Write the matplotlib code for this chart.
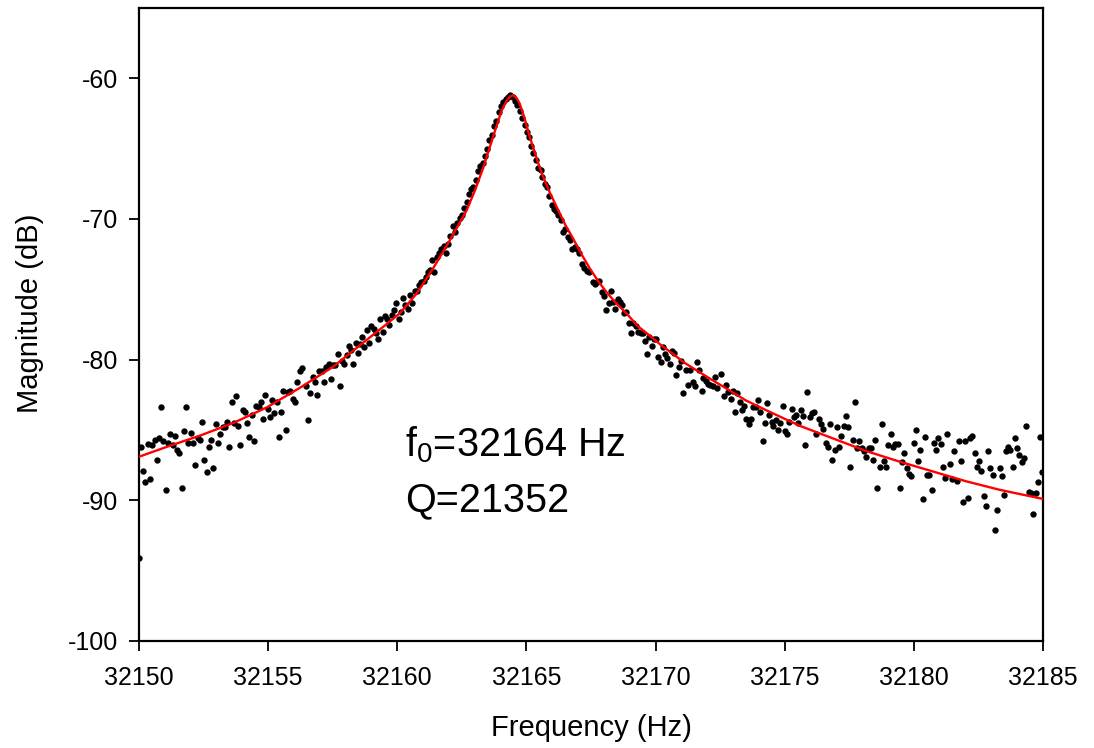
import matplotlib
matplotlib.use("Agg")
import matplotlib.pyplot as plt

# ---- data ----
freq = [
    32150.00, 32150.08, 32150.15, 32150.24, 32150.34, 32150.43, 32150.51, 32150.61, 32150.68, 32150.77,
    32150.86, 32150.94, 32151.03, 32151.12, 32151.21, 32151.30, 32151.39, 32151.47, 32151.56, 32151.65,
    32151.74, 32151.83, 32151.91, 32152.00, 32152.09, 32152.18, 32152.27, 32152.36, 32152.45, 32152.53,
    32152.62, 32152.70, 32152.79, 32152.88, 32152.97, 32153.06, 32153.15, 32153.24, 32153.32, 32153.41,
    32153.49, 32153.59, 32153.66, 32153.75, 32153.83, 32153.92, 32154.01, 32154.10, 32154.19, 32154.27,
    32154.36, 32154.45, 32154.54, 32154.63, 32154.71, 32154.80, 32154.89, 32154.98, 32155.06, 32155.15,
    32155.24, 32155.33, 32155.42, 32155.51, 32155.58, 32155.68, 32155.77, 32155.86, 32155.95, 32156.03,
    32156.11, 32156.23, 32156.33,
    32156.45, 32156.55, 32156.63, 32156.72, 32156.81, 32156.89, 32156.98, 32157.07, 32157.16, 32157.25,
    32157.34, 32157.43, 32157.51, 32157.60, 32157.69, 32157.77, 32157.86, 32157.95, 32158.04, 32158.13,
    32158.20, 32158.29, 32158.39, 32158.47, 32158.56, 32158.64, 32158.73, 32158.82, 32158.91, 32158.99,
    32159.08, 32159.17, 32159.26, 32159.34, 32159.43, 32159.52, 32159.61, 32159.69, 32159.78, 32159.87,
    32159.96, 32160.05, 32160.14, 32160.23, 32160.31, 32160.40, 32160.49, 32160.58, 32160.67, 32160.76,
    32160.84, 32160.92, 32161.02, 32161.10, 32161.18, 32161.27,
    32161.35, 32161.44, 32161.53, 32161.62, 32161.71, 32161.80, 32161.89, 32161.98, 32162.06, 32162.15,
    32162.24, 32162.33, 32162.42, 32162.50, 32162.59, 32162.68, 32162.77, 32162.86, 32162.95, 32163.04,
    32163.13, 32163.22, 32163.31, 32163.40, 32163.49, 32163.57, 32163.66, 32163.75, 32163.84, 32163.93,
    32164.02, 32164.11, 32164.20, 32164.29, 32164.38, 32164.47, 32164.56, 32164.65, 32164.74, 32164.83,
    32164.93, 32165.02, 32165.09, 32165.18, 32165.27, 32165.36, 32165.45, 32165.55, 32165.62, 32165.71,
    32165.80, 32165.89, 32165.98, 32166.06, 32166.15, 32166.24, 32166.33, 32166.42, 32166.51, 32166.60,
    32166.69, 32166.78, 32166.87, 32166.96, 32167.05, 32167.14, 32167.23, 32167.33, 32167.41,
    32167.56, 32167.64, 32167.72, 32167.81, 32167.91, 32167.99, 32168.08, 32168.18, 32168.27, 32168.34,
    32168.43, 32168.53, 32168.61, 32168.70, 32168.78, 32168.87, 32168.96, 32169.05, 32169.14, 32169.23,
    32169.32, 32169.42, 32169.50, 32169.58, 32169.67, 32169.76, 32169.85, 32169.94, 32170.03, 32170.11,
    32170.20, 32170.29, 32170.38, 32170.46, 32170.55, 32170.64, 32170.73, 32170.81, 32170.90, 32170.99,
    32171.08, 32171.16, 32171.25, 32171.34, 32171.43, 32171.52, 32171.61, 32171.68,
    32171.78, 32171.85, 32171.94, 32172.03, 32172.12, 32172.22, 32172.29, 32172.38, 32172.55, 32172.64,
    32172.74, 32172.82, 32172.91, 32173.00, 32173.09, 32173.17, 32173.26, 32173.34, 32173.43, 32173.52,
    32173.61, 32173.69, 32173.77, 32173.87, 32173.95, 32174.04, 32174.14, 32174.23, 32174.30, 32174.39,
    32174.49, 32174.56, 32174.65, 32174.74, 32174.83, 32174.92, 32175.01, 32175.10, 32175.18, 32175.27,
    32175.36, 32175.45, 32175.53, 32175.62, 32175.71, 32175.80, 32175.88, 32175.97, 32176.06, 32176.15,
    32176.23, 32176.32, 32176.41, 32176.50, 32176.58, 32176.67, 32176.75, 32176.85, 32176.94, 32177.01,
    32177.10, 32177.19, 32177.28, 32177.37, 32177.45, 32177.54, 32177.63, 32177.71, 32177.80, 32177.89,
    32177.98, 32178.07, 32178.16, 32178.25, 32178.34, 32178.42, 32178.51, 32178.59, 32178.68, 32178.77,
    32178.85, 32178.94, 32179.01, 32179.10, 32179.19, 32179.28, 32179.37, 32179.46, 32179.54, 32179.63,
    32179.72, 32179.81, 32179.90, 32179.99, 32180.07, 32180.16, 32180.25, 32180.34, 32180.42, 32180.51,
    32180.60, 32180.69, 32180.78, 32180.85, 32180.95, 32181.04, 32181.13, 32181.22, 32181.29, 32181.38,
    32181.47, 32181.57, 32181.66, 32181.73, 32181.82, 32181.91, 32181.99, 32182.08, 32182.17, 32182.26,
    32182.35, 32182.43, 32182.52, 32182.61, 32182.70, 32182.78, 32182.88, 32182.96, 32183.05, 32183.14,
    32183.23, 32183.32, 32183.40, 32183.49, 32183.58, 32183.66, 32183.74, 32183.83, 32183.93, 32184.00,
    32184.09, 32184.18, 32184.28, 32184.36, 32184.45, 32184.55, 32184.62, 32184.71, 32184.80, 32184.88,
    32184.97,
]
magnitude = [
    -94.1, -86.2, -87.9, -88.7, -86.0, -88.5, -86.1, -85.7, -87.1, -85.6,
    -83.4, -85.8, -89.3, -85.9, -85.3, -86.1, -85.4, -86.4, -86.6, -89.1,
    -85.1, -83.4, -85.9, -85.2, -85.9, -87.5, -85.6, -85.7, -84.4, -87.1,
    -88.0, -86.2, -85.7, -87.7, -84.6, -85.9, -85.3, -84.8, -84.8, -84.4,
    -86.2, -83.0, -84.5, -82.6, -84.7, -86.1, -83.6, -83.7, -84.5, -85.5,
    -83.9, -85.8, -83.3, -83.4, -83.0, -84.2, -82.5, -83.5, -84.1, -82.9,
    -83.8, -83.0, -85.5, -83.7, -82.2, -85.0, -82.3, -82.2, -82.8, -83.0,
    -81.6, -80.8, -80.6,
    -81.9, -84.3, -82.4, -81.2, -81.6, -82.5, -80.8, -80.8, -81.6, -80.5,
    -80.3, -81.4, -80.4, -80.4, -79.6, -81.9, -80.1, -80.3, -79.7, -79.0,
    -79.3, -80.3, -78.8, -79.5, -78.9, -78.4, -79.1, -77.9, -78.8, -77.6,
    -77.8, -78.1, -78.5, -77.1, -78.0, -76.9, -77.1, -77.5, -76.8, -76.5,
    -76.0, -77.1, -76.6, -75.6, -76.1, -76.4, -75.4, -76.0, -75.1, -75.1,
    -74.7, -74.5, -74.4, -74.1, -73.8, -73.6,
    -72.9, -73.8, -72.7, -72.4, -72.1, -71.9, -72.4, -71.8, -71.2, -70.5,
    -70.9, -70.3, -69.9, -69.7, -69.2, -68.8, -68.2, -67.9, -67.7, -67.2,
    -66.6, -66.2, -66.0, -65.5, -65.0, -64.4, -64.0, -63.4, -63.0, -62.4,
    -62.0, -61.7, -61.5, -61.3, -61.2, -61.3, -61.6, -61.9, -62.3, -62.8,
    -63.3, -63.8, -64.2, -64.8, -65.3, -65.8, -66.4, -66.5, -67.0, -67.5,
    -67.7, -68.4, -69.0, -69.3, -69.4, -69.7, -70.1, -70.9, -70.7, -71.3,
    -71.5, -72.1, -72.0, -72.1, -72.4, -73.2, -73.5, -73.7, -73.8,
    -74.5, -74.6, -74.5, -74.4, -75.2, -75.5, -76.5, -76.0, -75.1, -75.9,
    -76.4, -75.7, -75.9, -76.1, -76.7, -76.6, -77.4, -78.1, -77.4, -77.6,
    -78.0, -78.1, -78.1, -78.7, -79.6, -78.4, -79.0, -78.5, -78.5, -79.8,
    -80.2, -79.1, -79.6, -79.9, -80.3, -79.4, -79.5, -81.1, -80.5, -80.1,
    -82.4, -80.7, -81.8, -80.7, -81.6, -81.9, -80.2, -80.7,
    -82.2, -81.3, -81.5, -81.7, -81.8, -81.9, -81.2, -82.0, -81.0, -82.6,
    -81.8, -82.3, -82.8, -82.2, -83.7, -82.4, -83.0, -83.6, -83.3, -84.2,
    -84.6, -84.2, -83.4, -83.4, -82.9, -83.7, -85.8, -84.5, -83.1, -83.9,
    -84.4, -84.7, -84.3, -85.0, -84.5, -83.3, -85.1, -85.3, -84.4, -83.5,
    -84.1, -83.9, -84.5, -83.6, -84.0, -86.1, -82.3, -84.1, -83.8, -83.7,
    -85.3, -84.2, -84.6, -84.9, -85.9, -86.2, -84.6, -87.1, -86.4, -84.8,
    -86.2, -85.4, -84.7, -84.0, -84.8, -87.6, -85.7, -83.0, -86.3, -85.8,
    -86.3, -86.5, -86.9, -86.3, -86.3, -87.1, -85.7, -89.1, -87.6, -84.6,
    -87.2, -87.6, -86.1, -85.3, -86.2, -86.0, -86.0, -89.1, -87.3, -86.6,
    -87.7, -88.1, -88.3, -85.9, -85.0, -87.2, -86.4, -89.9, -85.5, -88.2,
    -88.2, -89.3, -85.9, -86.4, -85.6, -86.0, -87.6, -88.4, -85.3, -87.4,
    -88.5, -86.5, -88.6, -85.8, -87.2, -90.1, -85.8, -89.8, -85.6, -85.4,
    -86.6, -87.6, -87.2, -87.9, -89.7, -90.4, -86.5, -87.7, -88.2, -92.1,
    -90.7, -87.7, -88.3, -89.6, -86.5, -86.2, -86.4, -87.6, -85.6, -86.3,
    -86.8, -87.3, -87.0, -84.7, -89.4, -89.5, -91.0, -89.5, -88.7, -85.5,
    -88.0,
]

fit_freq = [
    32150.00, 32151.07, 32152.36, 32153.65, 32154.94, 32156.23, 32157.52, 32158.81,
    32159.50, 32160.10, 32160.75, 32161.39, 32162.04, 32162.68, 32163.00, 32163.32,
    32163.58, 32163.84, 32164.04, 32164.23, 32164.36, 32164.49, 32164.62, 32164.74,
    32164.94, 32165.10, 32165.26, 32165.45, 32165.65, 32165.90, 32166.16, 32166.50,
    32166.81, 32167.13, 32167.45, 32167.77, 32168.10, 32168.48, 32168.87, 32169.30,
    32169.78, 32170.20, 32170.68, 32171.10, 32171.58, 32172.15, 32172.74, 32173.50,
    32174.29, 32175.58, 32176.87, 32178.16, 32179.45, 32180.74, 32182.03, 32183.32,
    32185.00,
]
fit_magnitude = [
    -86.9, -86.2, -85.4, -84.5, -83.4, -82.0, -80.5, -78.6,
    -77.6, -76.7, -75.3, -73.5, -71.5, -69.4, -68.0, -66.4,
    -64.9, -63.4, -62.3, -61.6, -61.3, -61.2, -61.4, -61.8,
    -62.9, -64.0, -64.9, -66.0, -67.0, -68.1, -69.1, -70.4,
    -71.4, -72.5, -73.5, -74.4, -75.2, -76.0, -76.7, -77.6,
    -78.3, -78.95, -79.6, -80.2, -80.75, -81.4, -82.05, -82.9,
    -83.6, -84.7, -85.6, -86.5, -87.25, -87.95, -88.65, -89.25,
    -89.9,
]

x_ticks = [32150, 32155, 32160, 32165, 32170, 32175, 32180, 32185]
y_ticks = [-100, -90, -80, -70, -60]
annot_lines = [r"f$_\mathregular{0}$=32164 Hz", "Q=21352"]

# ---- styling ----
plt.rcParams['font.family'] = ['Liberation Sans', 'DejaVu Sans']
plt.rcParams['mathtext.fontset'] = 'custom'
plt.rcParams['mathtext.rm'] = 'Liberation Sans'
plt.rcParams['mathtext.it'] = 'Liberation Sans'
plt.rcParams['axes.unicode_minus'] = False

fig = plt.figure(figsize=(10.94, 7.48), dpi=100)
ax = fig.add_axes([139/1094, 1 - 641/748, (1043 - 139)/1094, (641 - 8)/748])

ax.scatter(freq, magnitude, s=21, color='black', linewidths=0, zorder=2)
ax.plot(fit_freq, fit_magnitude, color='#ff0000', lw=1.7, zorder=3,
        solid_joinstyle='round')

ax.set_xlim(32150, 32185)
ax.set_ylim(-100, -55)
ax.set_xticks(x_ticks)
ax.set_xticklabels([str(t) for t in x_ticks])
ax.set_yticks(y_ticks)
ax.set_yticklabels([str(t) for t in y_ticks])

for sp in ax.spines.values():
    sp.set_linewidth(1.6)
    sp.set_color('black')

ax.tick_params(axis='both', direction='out', length=7, width=1.3, labelsize=18)
ax.tick_params(axis='x', pad=11)
ax.tick_params(axis='y', pad=8)

ax.set_xlabel("Frequency (Hz)", fontsize=21)
ax.set_ylabel("Magnitude (dB)", fontsize=21)
ax.xaxis.set_label_coords(0.5, -0.115)
ax.yaxis.set_label_coords(-0.105, 0.517)

ax.text(32160.29, -86.9, annot_lines[0], fontsize=28.5, ha='left', va='baseline')
ax.text(32160.29, -90.8, annot_lines[1], fontsize=28.5, ha='left', va='baseline')

fig.savefig("out.png", dpi=100, facecolor='white')
